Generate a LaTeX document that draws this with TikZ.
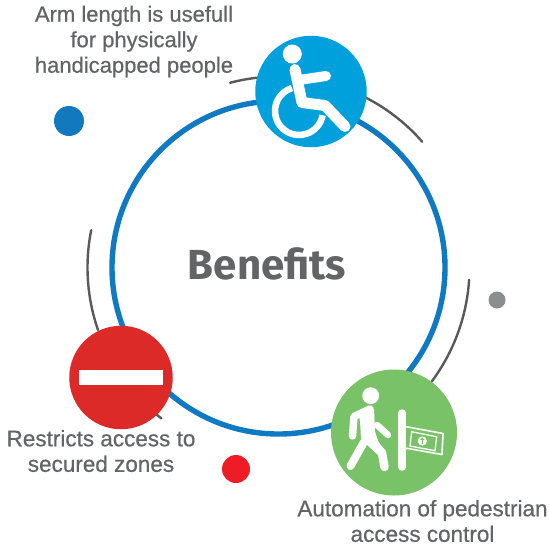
\documentclass[tikz,border=0pt]{standalone}
\usepackage{fontspec}
\setmainfont[FakeBold=0.6]{Liberation Sans}
\newfontfamily\headfont{Fira Sans}
\definecolor{ringblue}{HTML}{0F7AC1}
\definecolor{arcgrey}{HTML}{58595B}
\definecolor{labelgrey}{HTML}{636466}
\definecolor{discblue}{HTML}{00A0DC}
\definecolor{discgreen}{HTML}{79C267}
\definecolor{discred}{HTML}{DC2A28}
\definecolor{dotblue}{HTML}{1279BE}
\definecolor{dotgrey}{HTML}{8B8E91}
\definecolor{dotred}{HTML}{EE1C25}
\tikzset{
  disc/.style={circle,draw=none,inner sep=0pt,fill=#1},
  lbl/.style={text=labelgrey,align=center,inner sep=0pt,font=\fontsize{#1}{25.5}\selectfont},
  graphic/.style={draw=white,line cap=round,line join=round},
  thinarc/.style={draw=arcgrey,line width=2.4pt,line cap=round}
}
\begin{document}
\begin{tikzpicture}[x=1pt,y=1pt,yscale=-1]
\useasboundingbox (0,0) rectangle (549,547);
\coordinate (c) at (278.5,267.5);
% ring and outer arcs
\draw[ringblue,line width=5.4pt] (c) circle[radius=166.5pt];
\draw[thinarc] (c) ++(255.3:191pt) arc[start angle=255.3,end angle=318.8,radius=191pt];
\draw[thinarc] (c) ++(3.7:191pt) arc[start angle=3.7,end angle=36.7,radius=191pt];
\draw[thinarc] (c) ++(160.9:191pt) arc[start angle=160.9,end angle=191.25,radius=191pt];
\draw[thinarc] (c) ++(127.8:191pt) arc[start angle=127.8,end angle=136,radius=191pt];
% discs
\node[disc=discblue,minimum size=111.5pt] (access) at (311,91.5) {};
\node[disc=discgreen,minimum size=126pt] (gate) at (394,432.5) {};
\node[disc=discred,minimum size=103.5pt] (stop) at (121,377.5) {};
\node[disc=dotblue,minimum size=30pt] (d1) at (69,121) {};
\node[disc=dotgrey,minimum size=17pt] (d2) at (497,300) {};
\node[disc=dotred,minimum size=28pt] (d3) at (236,469) {};
% no entry bar
\fill[white] (79,370) rectangle (163,385);
% wheelchair
\fill[white] (292.3,54) circle[radius=9.5pt];
\draw[graphic,line width=11pt] (295,69.5) -- (302,102.5) -- (325,105.5) -- (345,126.5);
\draw[graphic,line width=10pt] (299,80) -- (326,76);
\draw[graphic,line width=6.5pt,line cap=butt] (299,111) ++(253:24pt) arc[start angle=253,end angle=10,radius=24pt];
% walker
\fill[white] (370.7,395.7) circle[radius=8.4pt];
\draw[graphic,line width=7.5pt] (370,409) -- (354,416.5) -- (352.5,436);
\fill[white,rounded corners=1.5pt] (358,413) -- (368,406) -- (374,408) -- (375,432) -- (379,443) -- (387,452) -- (374,450) -- (361,439) -- (360,420) -- cycle;
\draw[graphic,line width=6.5pt] (377,425) -- (388,435);
\draw[graphic,line width=8pt] (364,442) -- (350.5,466);
\draw[graphic,line width=8.5pt] (366,438) -- (382,453) -- (384.5,467);
\draw[graphic,line width=7.5pt] (402,413) -- (402,467);
\draw[white,line width=1.6pt,line join=round] (405,426.5) -- (443,433.5) -- (442,454.5) -- (405,448);
\draw[white,line width=1.3pt] (411.7,431.7) -- (436.7,436.7) -- (435,450.7) -- (410,446) -- cycle;
\fill[white] (422.3,441) circle[radius=4.6pt];
\draw[discgreen,line width=1.2pt] (422.3,444) -- (422.3,439);
\fill[discgreen] (422.3,437.2) -- (424.4,440) -- (420.2,440) -- cycle;
% texts
\node[text=labelgrey,inner sep=0pt,font={\headfont\bfseries\fontsize{42}{50}\selectfont}] (title) at (267,264) {Benefits};
\node[lbl=22] (l1) at (134,41.5) {Arm length is usefull\\for physically\\handicapped people};
\node[lbl=22.5] (l2) at (422.5,521) {Automation of pedestrian\\access control};
\node[lbl=22.5] (l3) at (101,451) {Restricts access to\\secured zones};
\end{tikzpicture}
\end{document}
